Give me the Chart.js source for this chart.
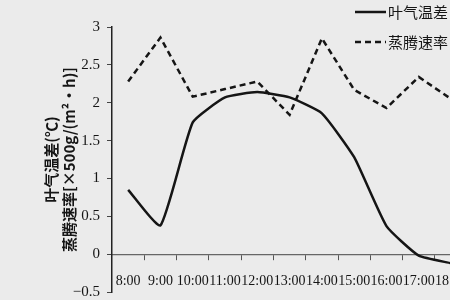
<!DOCTYPE html>
<html>
<head>
<meta charset="utf-8">
<script src="https://cdn.jsdelivr.net/npm/chart.js@4/dist/chart.umd.min.js"></script>
<style>
  html, body { margin: 0; padding: 0; background: #ebebeb; }
  #wrap { width: 450px; height: 300px; overflow: hidden; position: relative; }
  #chart { display: block; }
</style>
</head>
<body>
<div id="wrap"><canvas id="chart" width="481" height="308"></canvas></div>
<script>
// hours on the x axis (the last one is cut off by the frame)
const hours = ['8:00', '9:00', '10:00', '11:00', '12:00', '13:00', '14:00', '15:00', '16:00', '17:00', '18:00'];
// leaf-air temperature difference (°C)
const leafAirDiff = [0.85, 0.38, 1.74, 2.07, 2.14, 2.07, 1.86, 1.28, 0.37, -0.02, -0.12];
// transpiration rate (x500 g/(m2*h))
const transpRate = [2.28, 2.86, 2.08, 2.18, 2.28, 1.84, 2.85, 2.17, 1.93, 2.34, 2.05];
const yTicks = [-0.5, 0, 0.5, 1, 1.5, 2, 2.5, 3];

const ink = '#151515';

// small legend drawn in the upper right corner
const cornerLegend = {
    id: 'cornerLegend',
    afterDraw(chart) {
        const ctx = chart.ctx;
        const rows = [12, 42];
        chart.data.datasets.forEach((ds, i) => {
            const y = rows[i];
            ctx.save();
            ctx.strokeStyle = ds.borderColor;
            ctx.lineWidth = 2.5;
            ctx.setLineDash(ds.borderDash || []);
            ctx.beginPath();
            ctx.moveTo(355, y);
            ctx.lineTo(386, y);
            ctx.stroke();
            ctx.setLineDash([]);
            ctx.fillStyle = ink;
            ctx.font = '15px "Noto Sans CJK SC"';
            ctx.textBaseline = 'middle';
            ctx.fillText(ds.label, 388, y);
            ctx.restore();
        });
    }
};

new Chart(document.getElementById('chart'), {
    type: 'line',
    data: {
        labels: hours,
        datasets: [{
            label: '叶气温差',
            data: leafAirDiff,
            borderColor: ink,
            borderWidth: 2.5,
            pointRadius: 0,
            tension: 0.15
        }, {
            label: '蒸腾速率',
            data: transpRate,
            borderColor: ink,
            borderWidth: 2.5,
            borderDash: [6, 4],
            pointRadius: 0,
            tension: 0
        }]
    },
    options: {
        responsive: false,
        animation: false,
        layout: { padding: { left: 40, right: 0, top: 27, bottom: 1 } },
        plugins: {
            legend: { display: false },
            tooltip: { enabled: false }
        },
        scales: {
            x: {
                position: { y: 0 },
                offset: true,
                grid: { offset: true, drawOnChartArea: false, drawTicks: true, tickLength: 5, color: '#555' },
                border: { display: true, color: '#666', dash: [4, 2], width: 1.2 },
                ticks: {
                    autoSkip: false, maxRotation: 0, padding: 14, color: ink,
                    font: { family: '"Liberation Serif"', size: 14 }
                },
                title: {
                    display: true, text: '时间', color: ink, padding: { top: 6 },
                    font: { family: '"Noto Sans CJK SC"', size: 15, weight: 'bold' }
                }
            },
            y: {
                min: -0.5,
                max: 3,
                afterBuildTicks: s => { s.ticks = yTicks.map(v => ({ value: v })); },
                afterFit: s => { s.width = 72; },
                grid: { drawOnChartArea: false, drawTicks: true, tickLength: 5, color: '#444' },
                border: { display: true, color: '#222', dash: [2, 2], width: 1.5 },
                ticks: {
                    padding: 7, color: ink,
                    callback: v => String(v).replace('-', '−'),
                    font: { family: '"Liberation Serif"', size: 15 }
                },
                title: {
                    display: true,
                    text: ['叶气温差(℃)', '蒸腾速率[×500g/(m²·h)]'],
                    color: ink,
                    padding: { top: 2, bottom: 0 },
                    font: { family: '"Noto Sans CJK SC"', size: 15, weight: 'bold', lineHeight: 1.2 }
                }
            }
        }
    },
    plugins: [cornerLegend]
});
</script>
</body>
</html>
